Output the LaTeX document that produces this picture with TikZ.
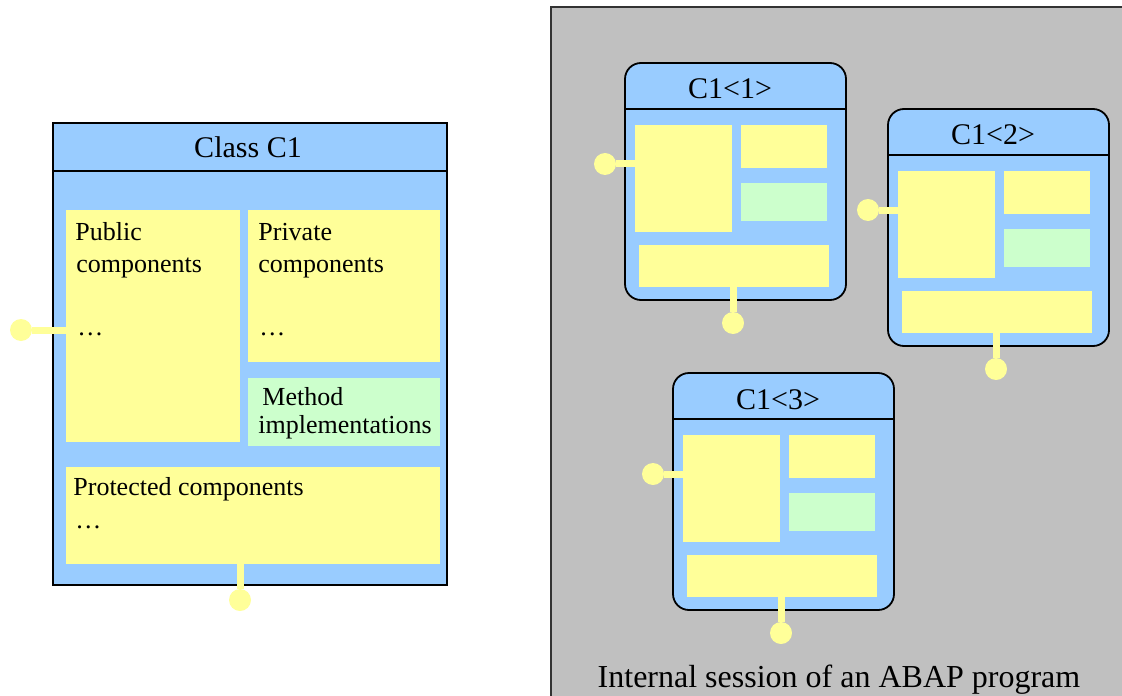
\documentclass[tikz,border=0pt]{standalone}
\usepackage{fontspec}
\setmainfont{Liberation Serif}
\usetikzlibrary{fit}
\definecolor{clsblue}{HTML}{99CCFF}
\definecolor{compyel}{HTML}{FFFF99}
\definecolor{methgrn}{HTML}{CCFFCC}
\definecolor{sessgray}{HTML}{C0C0C0}
\begin{document}
\begin{tikzpicture}[x=0.5pt,y=-0.5pt,
	clsbox/.style={draw, line width=1pt, fill=clsblue, inner sep=0},
	instbox/.style={draw, line width=0.9pt, fill=clsblue, rounded corners=8pt, inner sep=0},
	ybox/.style={fill=compyel, inner sep=0},
	gbox/.style={fill=methgrn, inner sep=0},
	lolli/.style={circle, fill=compyel, minimum size=11pt, inner sep=0},
	conn/.style={line width=3.5pt, draw=compyel},
	txt/.style={font=\fontsize{13}{16}\selectfont, inner sep=0},
	ttl/.style={font=\fontsize{15}{18}\selectfont, inner sep=0}]
	\useasboundingbox (0,0) rectangle (1122,695);
	% class C1
	\node[clsbox, fit={(53,123) (447,585)}] (cls) {};
	\draw[line width=1pt] (cls.west |- 0,171) -- (cls.east |- 0,171);
	\node[ttl, anchor=base] (clsname) at (248,158) {Class C1};
	\node[ybox, fit={(66,210) (240,442)}] (pub) {};
	\node[ybox, fit={(248,210) (440,362)}] (priv) {};
	\node[gbox, fit={(248,378) (440,446)}] (meth) {};
	\node[ybox, fit={(66,467) (440,564)}] (prot) {};
	\node[txt, anchor=base west] (pub-a) at (75,240) {Public};
	\node[txt, anchor=base west] (pub-b) at (76,272) {components};
	\node[txt, anchor=base west] (pub-c) at (77,335) {\dots};
	\node[txt, anchor=base west] (priv-a) at (258,240) {Private};
	\node[txt, anchor=base west] (priv-b) at (258,272) {components};
	\node[txt, anchor=base west] (priv-c) at (259,335) {\dots};
	\node[txt, anchor=base west] (meth-a) at (262,405) {Method};
	\node[txt, anchor=base west] (meth-b) at (258,433) {implementations};
	\node[txt, anchor=base west] (prot-a) at (73,495) {Protected components};
	\node[txt, anchor=base west] (prot-b) at (75,528) {\dots};
	\node[lolli] (cdot1) at (21,330) {};
	\node[lolli] (cdot2) at (240,600) {};
	\draw[conn] (cdot1) -- (cdot1 -| pub.west);
	\draw[conn] (prot.south -| cdot2) -- (cdot2);
	% internal session
	\node[draw=black!80, line width=1pt, fill=sessgray, inner sep=0, fit={(551,7) (1140,710)}] (sess) {};
	\node[font=\fontsize{16}{19}\selectfont, inner sep=0, anchor=base] (sesstxt) at (839,687) {Internal session of an ABAP program};
	\foreach \nm/\ox/\oy/\k in {i1/625/63/1, i2/888/109/2, i3/673/373/3}{
		\begin{scope}[shift={(\ox,\oy)}]
			\node[instbox, fit={(0,0) (221,237)}] (\nm) {};
			\draw[line width=0.9pt] (\nm.west |- 0,46) -- (\nm.east |- 0,46);
			\node[ttl, anchor=base] (\nm-t) at (105,36) {C1<\k>};
			\node[ybox, fit={(10,62) (107,169)}] (\nm-pub) {};
			\node[ybox, fit={(116,62) (202,105)}] (\nm-priv) {};
			\node[gbox, fit={(116,120) (202,158)}] (\nm-meth) {};
			\node[ybox, fit={(14,182) (204,224)}] (\nm-prot) {};
			\node[lolli] (\nm-d1) at (-20,101) {};
			\node[lolli] (\nm-d2) at (108,260) {};
			\draw[conn] (\nm-d1) -- (\nm-d1 -| \nm-pub.west);
			\draw[conn] (\nm-prot.south -| \nm-d2) -- (\nm-d2);
		\end{scope}
	}
\end{tikzpicture}
\end{document}
